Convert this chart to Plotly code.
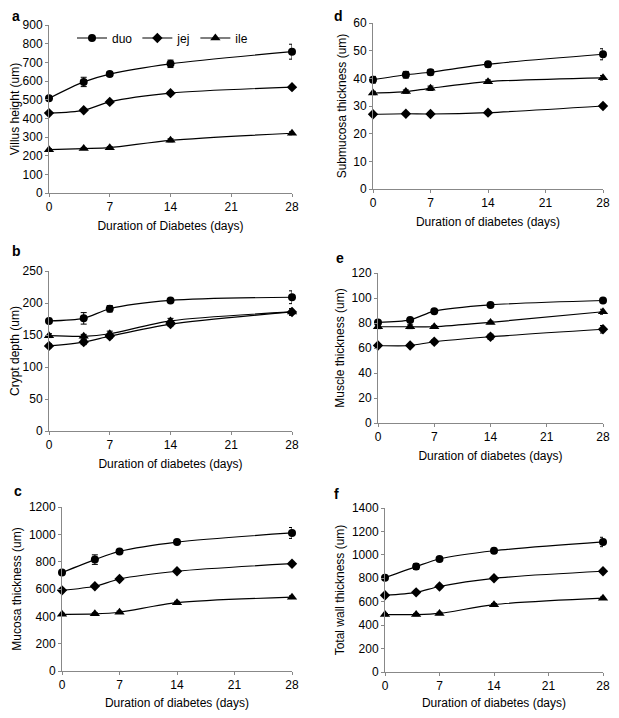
import plotly.graph_objects as go

days = [0, 4, 7, 14, 28]
x_ticks = [0, 7, 14, 21, 28]
series_names = ["duo", "jej", "ile"]

# Panel a: Villus height
a_duo = [507, 595, 637, 692, 757]
a_jej = [428, 443, 488, 535, 567]
a_ile = [232, 238, 243, 282, 320]
a_duo_err = [10, 25, 12, 20, 40]
a_jej_err = [6, 6, 8, 8, 8]
a_ile_err = [5, 5, 5, 8, 8]

# Panel b: Crypt depth
b_duo = [172, 176, 191, 204, 209]
b_jej = [133, 139, 148, 167, 186]
b_ile = [149, 148, 152, 172, 186]
b_duo_err = [4, 9, 5, 3, 10]
b_jej_err = [3, 4, 3, 3, 5]
b_ile_err = [3, 3, 4, 4, 5]

# Panel c: Mucosa thickness
c_duo = [720, 815, 875, 943, 1010]
c_jej = [590, 620, 673, 730, 785]
c_ile = [415, 418, 430, 500, 540]
c_duo_err = [15, 35, 12, 15, 40]
c_jej_err = [8, 8, 8, 10, 10]
c_ile_err = [8, 8, 8, 10, 10]

# Panel d: Submucosa thickness
d_duo = [39.5, 41.3, 42.2, 45.1, 48.7]
d_jej = [27.0, 27.2, 27.1, 27.6, 30.0]
d_ile = [34.7, 35.2, 36.4, 38.8, 40.2]
d_duo_err = [1.2, 1.2, 1.0, 1.0, 2.0]
d_jej_err = [0.5, 0.5, 0.5, 0.5, 0.6]
d_ile_err = [0.6, 0.6, 0.8, 0.6, 0.8]

# Panel e: Muscle thickness
e_duo = [80.5, 82.5, 89.5, 94.5, 98]
e_jej = [62, 62, 65, 69, 75]
e_ile = [77, 77, 77, 80.5, 89]
e_duo_err = [1, 1, 1, 1, 1]
e_jej_err = [1, 1, 1.5, 2, 3]
e_ile_err = [1.5, 1.5, 1, 1, 2]

# Panel f: Total wall thickness
f_duo = [805, 900, 965, 1035, 1110]
f_jej = [655, 680, 730, 800, 860]
f_ile = [490, 490, 500, 575, 630]
f_duo_err = [15, 25, 15, 20, 40]
f_jej_err = [10, 10, 10, 10, 10]
f_ile_err = [10, 10, 10, 10, 10]

OFF = 8  # default page body margin
W, H = 619 - 2 * OFF, 718 - 2 * OFF


def fx(px):
    return (px - OFF) / W


def fy(py):
    return 1 - (py - OFF) / H


panels = [
    dict(letter="a", ytitle="Villus height (um)", xtitle="Duration of Diabetes (days)",
         data=[(a_duo, a_duo_err), (a_jej, a_jej_err), (a_ile, a_ile_err)],
         yrange=[0, 900], dtick=100, px=(49, 292), py=(25, 193), lpos=(10, 16)),
    dict(letter="b", ytitle="Crypt depth (um)", xtitle="Duration of diabetes (days)",
         data=[(b_duo, b_duo_err), (b_jej, b_jej_err), (b_ile, b_ile_err)],
         yrange=[0, 250], dtick=50, px=(49, 292), py=(271, 431), lpos=(10, 251)),
    dict(letter="c", ytitle="Mucosa thickness (um)", xtitle="Duration of diabetes (days)",
         data=[(c_duo, c_duo_err), (c_jej, c_jej_err), (c_ile, c_ile_err)],
         yrange=[0, 1200], dtick=200, px=(62, 292), py=(507, 671), lpos=(12, 491)),
    dict(letter="d", ytitle="Submucosa thickness (um)", xtitle="Duration of diabetes (days)",
         data=[(d_duo, d_duo_err), (d_jej, d_jej_err), (d_ile, d_ile_err)],
         yrange=[0, 60], dtick=10, px=(373, 603), py=(23, 189), lpos=(332, 16)),
    dict(letter="e", ytitle="Muscle thickness (um)", xtitle="Duration of diabetes (days)",
         data=[(e_duo, e_duo_err), (e_jej, e_jej_err), (e_ile, e_ile_err)],
         yrange=[0, 120], dtick=20, px=(378, 603), py=(273, 423), lpos=(334, 258)),
    dict(letter="f", ytitle="Total wall thickness (um)", xtitle="Duration of diabetes (days)",
         data=[(f_duo, f_duo_err), (f_jej, f_jej_err), (f_ile, f_ile_err)],
         yrange=[0, 1400], dtick=200, px=(385, 603), py=(508, 672), lpos=(332, 494)),
]

symbols = ["circle", "diamond", "triangle-up"]
msizes = [8, 8, 9]

fig = go.Figure()
font = "Liberation Sans, Arial, sans-serif"
annotations = []

for i, p in enumerate(panels):
    idx = "" if i == 0 else str(i + 1)
    xa, ya = "x" + idx, "y" + idx
    for j, (vals, errs) in enumerate(p["data"]):
        fig.add_trace(go.Scatter(
            x=days, y=vals, xaxis=xa, yaxis=ya,
            mode="lines+markers", name=series_names[j],
            showlegend=(i == 0),
            line=dict(color="black", width=1.2, shape="spline", smoothing=0.8),
            marker=dict(symbol=symbols[j], size=msizes[j], color="black"),
            error_y=dict(type="data", array=errs, visible=True, color="black",
                         thickness=1, width=3),
            cliponaxis=False,
        ))
    x0, x1 = p["px"]
    y0, y1 = p["py"]
    axis_common = dict(showgrid=False, zeroline=False, showline=True, automargin=False,
                       linecolor="#888888", linewidth=1, ticks="outside",
                       tickcolor="#888888", ticklen=3, ticklabeloverflow="allow",
                       tickfont=dict(family=font, size=12, color="black"))
    fig.layout["xaxis" + idx] = dict(
        domain=[fx(x0), fx(x1)], anchor=ya, range=[0, 28],
        tickmode="array", tickvals=x_ticks,
        title=dict(text=p["xtitle"], font=dict(family=font, size=12, color="black"), standoff=8),
        **axis_common)
    fig.layout["yaxis" + idx] = dict(
        domain=[fy(y1), fy(y0)], anchor=xa, range=p["yrange"],
        tickmode="linear", tick0=0, dtick=p["dtick"],
        title=dict(text=p["ytitle"], font=dict(family=font, size=12, color="black"), standoff=4),
        **axis_common)
    lx, ly = p["lpos"]
    annotations.append(dict(text="<b>" + p["letter"] + "</b>", x=fx(lx), y=fy(ly),
                            xref="paper", yref="paper", xanchor="left", yanchor="middle",
                            showarrow=False, font=dict(family=font, size=14, color="black")))

fig.update_layout(
    width=W, height=H, margin=dict(l=0, r=0, t=0, b=0, autoexpand=False),
    paper_bgcolor="white", plot_bgcolor="white",
    annotations=annotations,
    legend=dict(orientation="h", x=fx(72), y=fy(38), xanchor="left", yanchor="middle",
                font=dict(family=font, size=12, color="black"), bgcolor="rgba(0,0,0,0)",
                itemwidth=30, tracegroupgap=0),
)

fig.write_html("out.html")
